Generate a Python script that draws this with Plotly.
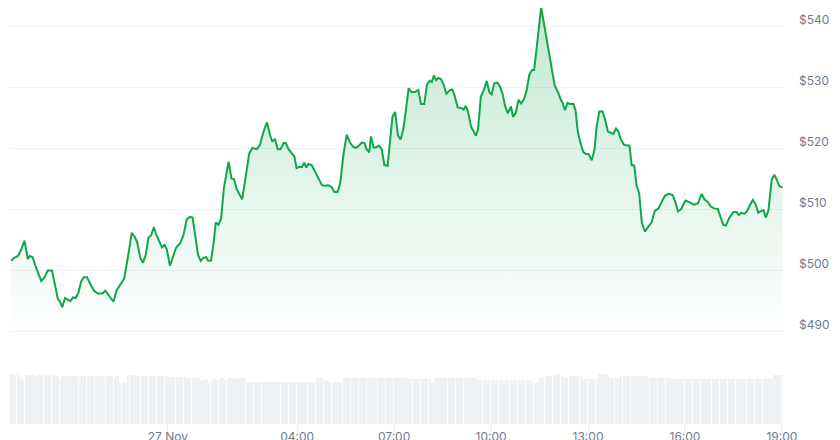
import pandas as pd
import plotly.graph_objects as go

# minutes relative to 27 Nov 00:00
minutes = [-291,-285,-278,-272,-266,-260,-256,-251,-245,-235,
           -229,-223,-215,-204,-200,-196,-191,-186,-181,-176,
           -171,-166,-161,-156,-150,-144,-137,-129,-121,-116,
           -110,-101,-95,-89,-81,-73,-67,-62,-57,-51,
           -46,-41,-36,-31,-26,-21,-16,-11,-6,-2,
           4,10,15,23,29,35,41,46,51,56,
           61,66,71,75,80,85,89,94,99,104,
           110,113,118,123,128,138,145,151,157,165,
           171,177,184,190,194,199,204,209,215,219,
           224,230,235,239,244,249,253,257,261,267,
           273,280,286,292,298,304,309,315,320,326,
           332,338,344,349,355,360,365,369,374,377,
           382,386,392,397,402,408,413,417,422,427,
           432,437,442,447,452,459,465,470,476,481,
           486,490,494,498,502,507,512,517,524,528,
           532,538,546,549,553,557,563,569,572,576,
           581,587,592,597,601,606,612,617,622,626,
           631,637,641,646,651,656,662,666,671,676,
           680,687,693,699,705,711,718,722,725,730,
           733,737,742,747,753,757,761,765,771,776,
           781,787,792,796,801,807,812,817,823,827,
           832,836,841,847,854,857,861,866,870,875,
           880,886,892,898,904,911,917,923,930,937,
           942,947,953,961,969,977,984,991,996,1002,
           1008,1014,1021,1027,1031,1036,1042,1050,1056,1060,
           1065,1070,1075,1081,1086,1091,1096,1102,1106,1110,
           1115,1121,1126,1130,1135,1141]

prices = [501.5,502.0,502.3,503.4,504.8,501.8,502.3,502.1,500.5,498.2,
          498.8,499.9,499.9,495.2,494.8,493.9,495.4,495.2,494.9,495.5,
          495.4,496.3,498.1,498.8,498.8,497.7,496.6,496.1,496.2,496.6,
          495.9,494.8,496.7,497.5,498.6,502.7,506.1,505.5,504.6,501.9,
          501.2,502.5,505.3,505.7,507.0,505.7,504.6,503.7,504.1,503.4,
          500.7,502.5,503.6,504.4,505.7,508.3,508.7,508.6,505.7,502.5,
          501.5,502.0,502.1,501.5,501.5,504.4,507.8,507.4,508.5,513.4,
          516.4,517.7,515.0,514.9,513.2,511.6,515.6,519.1,520.0,519.8,
          520.5,522.5,524.2,522.0,521.1,521.4,519.8,519.8,520.8,520.8,
          519.8,519.2,518.6,516.7,516.9,516.9,517.6,516.8,517.4,517.2,
          516.1,515.0,513.9,513.8,513.9,513.6,512.8,512.8,514.2,518.9,
          522.2,520.9,520.2,520.0,520.4,520.9,520.8,519.8,519.3,521.9,
          520.1,520.1,520.4,519.8,517.2,517.1,521.0,525.1,525.9,522.1,
          521.4,523.0,526.2,529.8,529.2,529.2,529.5,527.2,527.2,530.4,
          531.0,530.8,531.9,531.1,531.5,531.3,530.4,528.9,529.5,529.6,
          528.7,526.7,526.5,526.3,526.9,526.0,523.5,522.5,522.0,523.2,
          528.4,529.6,531.0,529.1,528.8,530.6,530.7,530.0,528.7,526.9,
          525.7,526.8,525.1,525.8,527.9,527.3,528.2,529.4,532.0,532.8,
          532.8,538.2,543.1,540.0,536.6,533.9,530.3,529.6,529.0,527.8,
          527.4,526.2,527.4,527.2,527.2,526.1,522.7,521.2,519.4,519.0,
          519.0,518.0,519.7,523.5,526.0,526.0,524.6,522.7,522.5,522.3,
          523.2,522.8,521.4,520.5,520.4,520.4,517.2,517.1,513.9,512.6,
          507.7,506.3,507.1,507.8,509.7,510.1,511.2,512.2,512.5,512.3,
          511.2,509.6,510.0,511.4,511.1,510.7,510.9,512.5,511.6,511.2,
          510.4,510.1,510.0,508.5,507.4,507.3,508.5,509.5,509.5,509.0,
          509.4,509.2,509.6,510.7,511.5,510.8,509.4,509.7,509.8,508.6,
          509.8,514.8,515.6,514.9,513.8,513.5]

# 5-minute volume bars (relative units)
volumes = [50, 50, 49.5, 50,
           47, 44,
           49, 49.5, 49, 49, 48.5, 49, 49, 49, 48.5, 49, 49, 48.5, 48,
           46,
           48, 48, 48.5, 48, 48, 48, 47.5, 48, 48, 48, 48, 48.5, 48, 48, 48, 47.5, 48, 48, 48,
           47, 48.5,
           42, 42.5, 42,
           49, 49, 49, 48.5, 48.5, 48.5, 48.5, 48.5, 48.5, 48.5, 48.5, 48.5, 48.5, 48.5, 48.5,
           47.5, 47.5, 47.5, 47.5, 47.5, 47.5, 47.5,
           46.5, 46.5, 46.5, 46.5, 46.5,
           44, 44, 45,
           42, 43,
           45, 44, 45, 46, 44, 45, 46, 45,
           46, 46, 46, 46,
           42.5, 42.5, 42, 42.5, 42.5, 42.5, 42.5, 42, 42.5, 42.5, 42.5, 42.5, 42.5,
           42.5, 42, 42.5, 42.5, 42.5, 42.5, 42.5, 42.5, 42.5, 42, 42.5, 42.5, 42.5,
           46, 46, 46,
           44, 43,
           42, 42, 42, 42, 42,
           46, 46, 46.5, 46, 46, 46, 46, 46.5, 46, 46, 46, 46, 46, 46,
           46.5, 46, 46, 46, 46, 46, 46.5, 46, 46, 46, 45.5, 45.5, 45.5,
           45, 45, 45, 45, 45, 45,
           42.5,
           46, 46, 46, 46, 46, 46, 46, 46, 46, 46, 46, 46, 46, 46, 46, 46,
           44.5, 44.5, 44.5, 44.5, 44.5, 44.5, 44.5, 44.5, 44.5, 44.5, 44.5,
           44.5, 44.5, 44.5, 44.5, 44.5, 44.5, 44.5, 44.5, 44.5, 44.5,
           41.5, 41.5,
           46.5, 47, 47.5, 48, 48.5, 49, 49.5, 50, 49,
           47, 47,
           48.5, 48.5, 48.5, 48.5, 48.5,
           45.5, 45.5, 45.5, 45.5, 45.5, 45.5,
           50, 50.5, 50, 49,
           46, 46, 46, 46,
           48.5, 48.5, 48.5, 48.5, 48.5, 48.5, 48.5, 48.5, 48.5, 48.5,
           46.5, 46.5, 46.5, 46.5, 46.5, 46.5, 46.5, 46.5, 46.5,
           45.5, 45.5, 45.5, 45.5, 45.5, 45.5, 45.5, 45.5, 45.5, 45.5,
           45.5, 45.5, 45.5, 45.5, 45.5, 45.5, 45.5, 45.5, 45.5, 45.5,
           45.5, 45.5, 45.5, 45.5, 45.5, 45.5, 45.5, 45.5, 45.5, 45.5,
           45.5, 45.5, 45.5, 45.5, 45.5, 45.5, 45.5, 45.5,
           49, 49.5, 49, 49]

x_tick_labels = ["27 Nov", "04:00", "07:00", "10:00", "13:00", "16:00", "19:00"]
x_tick_times = ["2024-11-27 00:00", "2024-11-27 04:00", "2024-11-27 07:00",
                "2024-11-27 10:00", "2024-11-27 13:00", "2024-11-27 16:00",
                "2024-11-27 19:00"]
price_ticks = [490, 500, 510, 520, 530, 540]
price_tick_labels = ["$490", "$500", "$510", "$520", "$530", "$540"]

if len(minutes) != len(prices):
    raise ValueError(f"len mismatch {len(minutes)} {len(prices)}")

base = pd.Timestamp("2024-11-27 00:00")
times = [base + pd.Timedelta(minutes=m) for m in minutes]
vol_times = pd.date_range(base - pd.Timedelta(minutes=293), periods=len(volumes), freq="5min")

GREEN = "#0ea74a"
LABEL = "#6f7b8f"

fig = go.Figure()

fig.add_trace(go.Bar(
    x=vol_times, y=volumes, xaxis="x", yaxis="y2",
    marker=dict(color="#eef2f4", line=dict(width=0)),
    width=215000, hoverinfo="skip", showlegend=False,
))

fig.add_trace(go.Scatter(
    x=times, y=prices, xaxis="x", yaxis="y",
    mode="lines", line=dict(color=GREEN, width=2),
    fill="tozeroy",
    fillgradient=dict(type="vertical",
                      colorscale=[[0, "rgba(14,167,74,0.0)"], [1, "rgba(14,167,74,0.25)"]],
                      start=489, stop=543),
    hoverinfo="skip", showlegend=False,
))

# page body adds an 8px offset, so the figure is 832x432
fig.update_layout(
    width=832, height=432,
    margin=dict(l=2, r=57, t=0, b=16),
    paper_bgcolor="white", plot_bgcolor="white",
    font=dict(family="Inter, Roboto, sans-serif", size=12, color=LABEL),
    bargap=0,
    xaxis=dict(
        anchor="y2",
        type="date",
        automargin=False,
        range=[base - pd.Timedelta(minutes=293), base + pd.Timedelta(minutes=1142)],
        tickvals=x_tick_times, ticktext=x_tick_labels,
        ticks="outside", ticklen=7, tickcolor="#e6e9ee", tickwidth=1,
        ticklabelstandoff=-5,
        showgrid=False, showline=False, zeroline=False,
        tickfont=dict(size=12, color=LABEL),
    ),
    yaxis=dict(
        domain=[0.18, 1.0],
        range=[487.03, 542.95],
        side="right",
        automargin=False,
        tickvals=price_ticks, ticktext=price_tick_labels,
        showgrid=True, gridcolor="#f0f2f5", gridwidth=1,
        zeroline=False, showline=False, ticks="",
        ticklabelstandoff=15, ticklabelshift=-6,
        tickfont=dict(size=12, color=LABEL),
    ),
    yaxis2=dict(
        domain=[0.0, 0.12],
        range=[0, 50.5],
        automargin=False,
        showgrid=False, showticklabels=False, zeroline=False, showline=False,
    ),
)

fig.write_html("out.html")
